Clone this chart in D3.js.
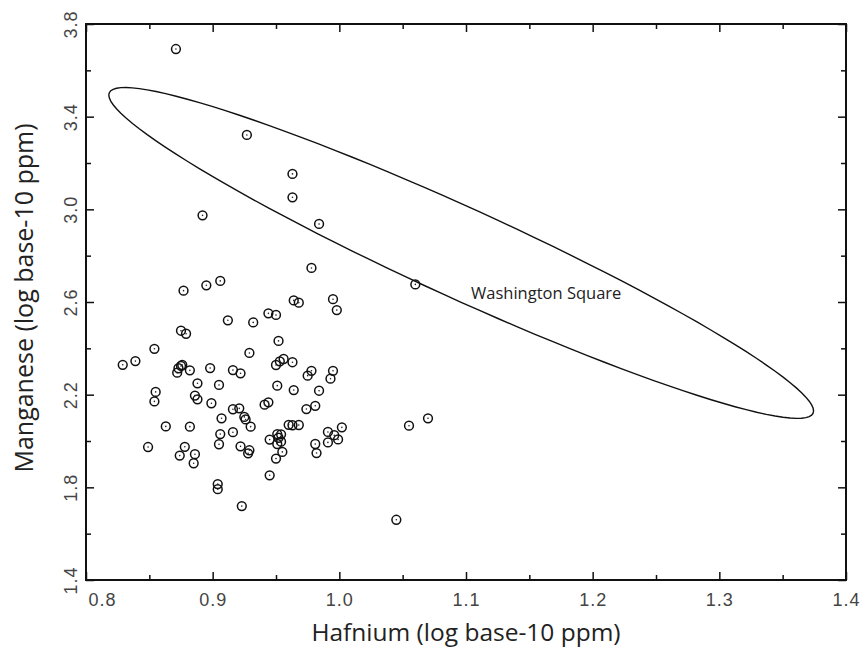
<!DOCTYPE html>
<html>
<head>
<meta charset="utf-8">
<script src="https://cdn.jsdelivr.net/npm/d3@7"></script>
<style>
  html, body { margin: 0; padding: 0; background: #fff; }
  svg { display: block; }
</style>
</head>
<body>
<svg id="chart" width="865" height="650"></svg>
<script>
// ---------------- data ----------------
const hafnium = [
  0.871, 0.927, 0.963, 0.963, 0.892, 0.984, 1.060, 1.070, 1.055, 0.978,
  0.906, 0.895, 0.877, 0.964, 0.968, 0.995, 0.998, 0.944, 0.950, 0.912,
  0.932, 0.875, 0.879, 0.952, 0.854, 0.929, 0.829, 0.839, 0.956, 0.953,
  0.950, 0.963, 0.873, 0.875, 0.872, 0.876, 0.882, 0.898, 0.916, 0.922,
  0.978, 0.975, 0.995, 0.993, 0.888, 0.905, 0.951, 0.964, 0.984, 0.855,
  0.854, 0.886, 0.888, 0.899, 0.916, 0.921, 0.941, 0.944, 0.974, 0.981,
  0.925, 0.926, 0.907, 0.930, 0.863, 0.882, 0.960, 0.963, 0.968, 0.906,
  0.916, 0.951, 0.954, 0.952, 0.945, 0.951, 0.954, 0.991, 0.996, 1.002,
  0.999, 0.991, 0.905, 0.922, 0.849, 0.878, 0.981, 0.982, 0.929, 0.928,
  0.955, 0.874, 0.886, 0.885, 0.950, 0.945, 0.904, 0.904, 0.923, 1.045
];
const manganese = [
  3.692, 3.321, 3.153, 3.052, 2.974, 2.937, 2.676, 2.098, 2.066, 2.747,
  2.691, 2.672, 2.649, 2.607, 2.597, 2.612, 2.565, 2.551, 2.544, 2.521,
  2.512, 2.476, 2.463, 2.432, 2.398, 2.380, 2.329, 2.345, 2.354, 2.344,
  2.328, 2.340, 2.314, 2.324, 2.295, 2.328, 2.305, 2.315, 2.306, 2.292,
  2.303, 2.282, 2.303, 2.269, 2.249, 2.242, 2.239, 2.220, 2.217, 2.212,
  2.171, 2.196, 2.180, 2.163, 2.137, 2.141, 2.157, 2.167, 2.138, 2.152,
  2.104, 2.093, 2.098, 2.062, 2.063, 2.062, 2.070, 2.068, 2.069, 2.030,
  2.038, 2.030, 2.029, 2.014, 2.006, 1.987, 1.997, 2.039, 2.025, 2.059,
  2.007, 1.994, 1.986, 1.977, 1.974, 1.975, 1.987, 1.948, 1.960, 1.947,
  1.953, 1.937, 1.943, 1.904, 1.924, 1.852, 1.814, 1.792, 1.719, 1.660
];

const xMajorTicks = [0.8, 0.9, 1.0, 1.1, 1.2, 1.3, 1.4];
const xMinorTicks = [0.85, 0.95, 1.05, 1.15, 1.25, 1.35];
const yMajorTicks = [1.4, 1.8, 2.2, 2.6, 3.0, 3.4, 3.8];
const yMinorTicks = [1.6, 2.0, 2.4, 2.8, 3.2, 3.6];

// Washington Square field: ellipse as centre + two conjugate half-diameters (data units)
const ellipseCenter = [1.0962, 2.8117];
const ellipseAxisA  = [0.2778, -0.6918];
const ellipseAxisB  = [-0.0146, -0.1769];
const ellipseLabel  = "Washington Square";
const ellipseLabelPos = [1.104, 2.612];

const xTitle = "Hafnium (log base-10 ppm)";
const yTitle = "Manganese (log base-10 ppm)";

// ---------------- layout ----------------
const W = 865, H = 650;
const margin = { left: 86, top: 24, right: 19, bottom: 70 };
const iw = W - margin.left - margin.right;
const ih = H - margin.top - margin.bottom;

const svg = d3.select("#chart");
const g = svg.append("g").attr("transform", `translate(${margin.left},${margin.top})`);

const x = d3.scaleLinear().domain([0.8, 1.4]).range([0, iw]);
const y = d3.scaleLinear().domain([1.4, 3.8]).range([ih, 0]);

const fmt = d3.format(".1f");
const tickFont = "'Liberation Sans', Arial, sans-serif";
const titleFont = "'Open Sans', 'Noto Sans', sans-serif";

// ---- axes (inward ticks on all four sides) ----
function styleAxis(sel) {
  sel.select(".domain").remove();
  sel.selectAll(".tick line").attr("stroke", "#111").attr("stroke-width", 1.5);
}

// bottom
const bottomMajor = g.append("g").attr("transform", `translate(0,${ih})`)
  .call(d3.axisBottom(x).tickValues(xMajorTicks).tickSizeInner(-8).tickSizeOuter(0).tickPadding(13).tickFormat(fmt));
styleAxis(bottomMajor);
bottomMajor.selectAll(".tick text")
  .attr("font-family", tickFont).attr("font-size", 18).attr("fill", "#444")
  .attr("letter-spacing", "1px")
  .attr("dx", (d, i) => i === 0 ? 16 : 0);
const bottomMinor = g.append("g").attr("transform", `translate(0,${ih})`)
  .call(d3.axisBottom(x).tickValues(xMinorTicks).tickSizeInner(-5).tickSizeOuter(0).tickFormat(""));
styleAxis(bottomMinor);

// top
const topMajor = g.append("g")
  .call(d3.axisTop(x).tickValues(xMajorTicks).tickSizeInner(-8).tickSizeOuter(0).tickFormat(""));
styleAxis(topMajor);
const topMinor = g.append("g")
  .call(d3.axisTop(x).tickValues(xMinorTicks).tickSizeInner(-5).tickSizeOuter(0).tickFormat(""));
styleAxis(topMinor);

// left
const leftMajor = g.append("g")
  .call(d3.axisLeft(y).tickValues(yMajorTicks).tickSizeInner(-8).tickSizeOuter(0).tickPadding(0).tickFormat(fmt));
styleAxis(leftMajor);
leftMajor.selectAll(".tick text")
  .attr("font-family", tickFont).attr("font-size", 18).attr("fill", "#444")
  .attr("letter-spacing", "1px")
  .attr("text-anchor", "middle").attr("x", null).attr("dy", null)
  .attr("transform", "translate(-9,0) rotate(-90)");
const leftMinor = g.append("g")
  .call(d3.axisLeft(y).tickValues(yMinorTicks).tickSizeInner(-5).tickSizeOuter(0).tickFormat(""));
styleAxis(leftMinor);

// right
const rightMajor = g.append("g").attr("transform", `translate(${iw},0)`)
  .call(d3.axisRight(y).tickValues(yMajorTicks).tickSizeInner(-8).tickSizeOuter(0).tickFormat(""));
styleAxis(rightMajor);
const rightMinor = g.append("g").attr("transform", `translate(${iw},0)`)
  .call(d3.axisRight(y).tickValues(yMinorTicks).tickSizeInner(-5).tickSizeOuter(0).tickFormat(""));
styleAxis(rightMinor);

// frame
g.append("rect").attr("x", 0).attr("y", 0).attr("width", iw).attr("height", ih)
  .attr("fill", "none").attr("stroke", "#111").attr("stroke-width", 2);

// ---- ellipse ----
const ellipsePts = d3.range(0, 361, 3).map(deg => {
  const t = deg * Math.PI / 180;
  return [
    ellipseCenter[0] + ellipseAxisA[0] * Math.cos(t) + ellipseAxisB[0] * Math.sin(t),
    ellipseCenter[1] + ellipseAxisA[1] * Math.cos(t) + ellipseAxisB[1] * Math.sin(t)
  ];
});
g.append("path")
  .datum(ellipsePts)
  .attr("d", d3.line().x(d => x(d[0])).y(d => y(d[1])).curve(d3.curveLinearClosed))
  .attr("fill", "none").attr("stroke", "#111").attr("stroke-width", 1.4);

g.append("text")
  .attr("x", x(ellipseLabelPos[0])).attr("y", y(ellipseLabelPos[1]))
  .attr("font-family", titleFont).attr("font-size", 16.5).attr("fill", "#222")
  .text(ellipseLabel);

// ---- points ----
const pts = hafnium.map((h, i) => ({ h, m: manganese[i] }));
const pg = g.append("g");
pg.selectAll("circle.ring").data(pts).join("circle")
  .attr("class", "ring")
  .attr("cx", d => x(d.h)).attr("cy", d => y(d.m)).attr("r", 4.4)
  .attr("fill", "none").attr("stroke", "#111").attr("stroke-width", 1.5);
pg.selectAll("circle.dot").data(pts).join("circle")
  .attr("class", "dot")
  .attr("cx", d => x(d.h)).attr("cy", d => y(d.m)).attr("r", 0.8)
  .attr("fill", "#222");

// ---- titles ----
svg.append("text")
  .attr("x", margin.left + x(1.1)).attr("y", 641)
  .attr("text-anchor", "middle")
  .attr("font-family", titleFont).attr("font-size", 24.5).attr("fill", "#222")
  .text(xTitle);
svg.append("text")
  .attr("transform", `translate(33,${margin.top + y(2.6) - 4}) rotate(-90)`)
  .attr("text-anchor", "middle")
  .attr("font-family", titleFont).attr("font-size", 25).attr("fill", "#222")
  .text(yTitle);
</script>
</body>
</html>
